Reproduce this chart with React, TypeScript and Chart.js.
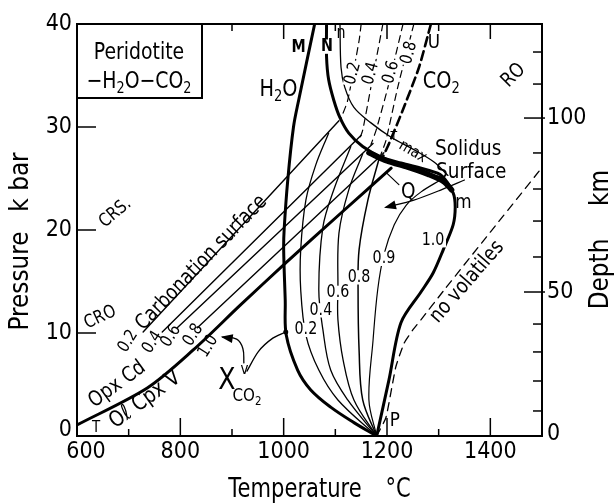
import React, { useEffect, useRef } from "react";
import { Chart, registerables } from "chart.js";
Chart.register(...registerables);

type Pt = [number, number];

// ---- axes ----
const tempMin = 600;
const tempMax = 1500;
const presMin = 0;
const presMax = 40;
const tempLabels = [600, 800, 1000, 1200, 1400];
const tempMinor = [700, 900, 1100, 1300];
const presLabels = [10, 20, 30];
const presTickText = ["0", "10", "20", "30", "40"];
const depthKm = [0, 10, 20, 30, 40, 50, 60, 70, 80, 90, 100, 110, 120];
const depthAtKbar = [0, 2.43, 5.34, 8.16, 10.87, 13.98, 17.38, 20.87, 23.98, 27.48, 30.87, 34.17, 37.28];
const depthLabelled = [0, 50, 100];

// ---- curves (T °C, P kbar) ----
const h2oSolidusM: Pt[] = [[1060, 40], [1029, 32.6], [1019, 30], [1008, 24.9], [1001, 20.1], [1000, 18.1], [1003, 13.2], [1005, 9.8], [1027, 6.4], [1052, 4.5], [1091, 2.8], [1136, 1.3], [1180, 0]];
const solidusNmP: Pt[] = [[1083, 40], [1083, 36.8], [1087, 34.6], [1097, 32.6], [1109, 30.9], [1126, 29.4], [1153, 28.1], [1188, 27.1], [1227, 26.5], [1280, 25.8], [1305, 25.3], [1328, 23.6], [1332, 22.2], [1328, 20.5], [1309, 18.1], [1289, 15.8], [1266, 14.0], [1227, 11.0], [1204, 5.5], [1180, 0]];
const solidusBand: Pt[] = [[1165, 27.5], [1200, 26.7], [1240, 26.1], [1280, 25.4], [1310, 24.7], [1325, 23.9]];
const curveN: Pt[] = [[1109, 40], [1111, 35.8], [1118, 33.9], [1136, 31.9], [1169, 30.4], [1208, 29.0], [1252, 27.8], [1291, 26.6], [1318, 25.3]];
const dashed02: Pt[] = [[1150, 40], [1146, 38.4], [1124, 32.6], [1110, 30.7]];
const dashed04: Pt[] = [[1192, 40], [1169, 33.9], [1153, 29.7], [1146, 28.7]];
const dashed06: Pt[] = [[1231, 40], [1202, 33.9], [1179, 29.7], [1169, 28.3]];
const dashed08: Pt[] = [[1252, 40], [1221, 33.9], [1198, 28.7], [1188, 27.3]];
const dashedU: Pt[] = [[1285, 40], [1262, 35.8], [1231, 31.7], [1204, 28.4], [1192, 27.1]];
const carb02: Pt[] = [[728, 10.1], [1107, 30.6]];
const carb04: Pt[] = [[765, 10.1], [1150, 29.2]];
const carb06: Pt[] = [[794, 10.5], [1173, 28.4]];
const carb08: Pt[] = [[833, 10.5], [1194, 27.5]];
const carb10: Pt[] = [[600, 1.07], [736, 4.66], [825, 8.35], [916, 12.7], [1004, 16.8], [1111, 21.65], [1208, 26.0]];
const iso02: Pt[] = [[1180, 0], [1105, 3.5], [1068, 6.4], [1043, 9.8], [1033, 14.2], [1033, 18.1], [1043, 22.9], [1062, 26.3], [1087, 29.4]];
const iso04: Pt[] = [[1180, 0], [1124, 3.5], [1091, 6.4], [1076, 10.3], [1068, 14.2], [1076, 20.3], [1097, 23.9], [1130, 28.1]];
const iso06: Pt[] = [[1180, 0], [1136, 3.5], [1115, 7.4], [1105, 11.3], [1105, 14.2], [1107, 19.7], [1126, 23.9], [1153, 27.4]];
const iso08: Pt[] = [[1180, 0], [1153, 3.5], [1146, 8.3], [1144, 14.2], [1146, 18.1], [1163, 22.9], [1184, 26.8]];
const iso09: Pt[] = [[1180, 0], [1165, 3.5], [1173, 9.3], [1182, 14.2], [1194, 17.6], [1214, 20.5], [1237, 22.4], [1266, 23.7], [1305, 24.9]];
const noVolatiles: Pt[] = [[1180, 0], [1198, 1.8], [1217, 6.7], [1233, 9.0], [1250, 10.3], [1266, 11.3], [1311, 14.2], [1400, 19.8], [1499, 26.0]];
const surfaceArrow: Pt[] = [[1350, 24.85], [1305, 23.9], [1252, 22.9], [1198, 22.2]];
const qLeader: Pt[] = [[1198, 25.6], [1223, 24.4]];
const xArrow: Pt[] = [[923, 7.1], [921, 8.5], [909, 9.4], [882, 9.6]];
const xLine: Pt[] = [[929, 6.3], [951, 8.2], [979, 9.5], [1004, 10.1]];

type Note = { text: string; T: number; P: number; size: number; rot?: number; bg?: boolean; bold?: boolean };
const notes: Note[] = [
  { text: "H_2O", T: 990, P: 33.6, size: 23 },
  { text: "M", T: 1029, P: 37.7, size: 17, bold: true },
  { text: "N", T: 1084, P: 37.8, size: 17, bold: true, bg: true },
  { text: "n", T: 1111, P: 39.1, size: 17 },
  { text: "0.2", T: 1134, P: 35.2, size: 17, rot: -75, bg: true },
  { text: "0.4", T: 1169, P: 35.2, size: 17, rot: -75, bg: true },
  { text: "0.6", T: 1208, P: 35.3, size: 17, rot: -75, bg: true },
  { text: "0.8", T: 1243, P: 37.2, size: 17, rot: -75, bg: true },
  { text: "U", T: 1291, P: 38.2, size: 20 },
  { text: "CO_2", T: 1305, P: 34.4, size: 23 },
  { text: "RO", T: 1445, P: 35.0, size: 20, rot: -45 },
  { text: "max", T: 1250, P: 27.6, size: 16, rot: 30 },
  { text: "T", T: 1213, P: 29.1, size: 13 },
  { text: "Solidus", T: 1357, P: 27.8, size: 22 },
  { text: "Surface", T: 1363, P: 25.6, size: 22 },
  { text: "Q", T: 1241, P: 23.7, size: 22 },
  { text: "m", T: 1348, P: 22.6, size: 20 },
  { text: "1.0", T: 1289, P: 19.0, size: 17, bg: true },
  { text: "0.9", T: 1194, P: 17.2, size: 17, bg: true },
  { text: "0.8", T: 1146, P: 15.4, size: 17, bg: true },
  { text: "0.6", T: 1105, P: 13.9, size: 17, bg: true },
  { text: "0.4", T: 1072, P: 12.2, size: 17, bg: true },
  { text: "0.2", T: 1043, P: 10.3, size: 17, bg: true },
  { text: "no volatiles", T: 1355, P: 14.95, size: 21, rot: -49 },
  { text: "P", T: 1215, P: 1.46, size: 20 },
  { text: "T", T: 637, P: 0.78, size: 16 },
  { text: "Opx Cd", T: 678, P: 5.0, size: 21, rot: -36 },
  { text: "O\u2113 Cpx V", T: 732, P: 3.5, size: 22, rot: -36 },
  { text: "0.2", T: 699, P: 9.2, size: 17, rot: -58 },
  { text: "0.4", T: 746, P: 9.1, size: 17, rot: -58 },
  { text: "0.6", T: 782, P: 9.7, size: 17, rot: -58 },
  { text: "0.8", T: 825, P: 9.8, size: 17, rot: -58 },
  { text: "1.0", T: 854, P: 8.7, size: 17, rot: -58 },
  { text: "Carbonation surface", T: 841, P: 16.8, size: 21, rot: -46 },
  { text: "CRS.", T: 674, P: 21.65, size: 18, rot: -40 },
  { text: "CRO", T: 645, P: 11.5, size: 18, rot: -25 },
  { text: "X", T: 890, P: 5.3, size: 30 },
  { text: "v", T: 924, P: 6.4, size: 16 },
  { text: "CO_2", T: 929, P: 3.9, size: 18 },
];

const FONT = '"DejaVu Sans", "Liberation Sans", sans-serif';
const SX = 0.84;

type Seg = { t: string; size: number; dy: number; bold?: boolean };
function rich(text: string, size: number, bold?: boolean): Seg[] {
  const segs: Seg[] = [];
  let buf = "";
  for (let i = 0; i < text.length; i++) {
    const c = text[i];
    if ((c === "_" || c === "^") && i + 1 < text.length) {
      if (buf) segs.push({ t: buf, size, dy: 0, bold });
      buf = "";
      segs.push({ t: text[i + 1], size: size * 0.68, dy: c === "_" ? size * 0.32 : -size * 0.35, bold });
      i++;
    } else buf += c;
  }
  if (buf) segs.push({ t: buf, size, dy: 0, bold });
  return segs;
}

function drawSegs(ctx: CanvasRenderingContext2D, segs: Seg[], x: number, y: number, rot = 0, align: "center" | "left" | "right" = "center", bg = false, sx = SX) {
  ctx.save();
  ctx.translate(x, y);
  ctx.rotate((rot * Math.PI) / 180);
  ctx.scale(sx, 1);
  let w = 0;
  const widths: number[] = [];
  let maxSize = 0;
  for (const s of segs) {
    ctx.font = `${s.bold ? "bold " : ""}${s.size}px ${FONT}`;
    const mw = ctx.measureText(s.t).width;
    widths.push(mw);
    w += mw;
    maxSize = Math.max(maxSize, s.size);
  }
  let cx = align === "center" ? -w / 2 : align === "right" ? -w : 0;
  if (bg) {
    ctx.fillStyle = "#fff";
    ctx.fillRect(cx - 2, -maxSize * 0.42, w + 4, maxSize * 0.84);
  }
  ctx.fillStyle = "#000";
  ctx.textBaseline = "middle";
  ctx.textAlign = "left";
  segs.forEach((s, i) => {
    ctx.font = `${s.bold ? "bold " : ""}${s.size}px ${FONT}`;
    ctx.fillText(s.t, cx, s.dy);
    cx += widths[i];
  });
  ctx.restore();
}

const toXY = (pts: Pt[]) => pts.map(([x, y]) => ({ x, y }));

function ds(pts: Pt[], width: number, opts: any = {}) {
  return {
    data: toXY(pts),
    showLine: true,
    borderColor: "#000",
    borderWidth: width,
    pointRadius: 0,
    fill: false,
    tension: opts.tension ?? 0.35,
    borderDash: opts.dash ?? [],
    borderCapStyle: "round",
    borderJoinStyle: "round",
  };
}

export default function App() {
  const ref = useRef<HTMLCanvasElement | null>(null);
  useEffect(() => {
    if (!ref.current) return;
    const overlay = {
      id: "overlay",
      afterDatasetsDraw(chart: any) {
        const { ctx, chartArea: a, scales } = chart;
        const px = (t: number) => scales.x.getPixelForValue(t);
        const py = (p: number) => scales.y.getPixelForValue(p);
        ctx.save();
        ctx.strokeStyle = "#000";
        ctx.lineCap = "butt";
        const head = (pts: Pt[]) => {
          const n = pts.length;
          const x1 = px(pts[n - 2][0]), y1 = py(pts[n - 2][1]);
          const x2 = px(pts[n - 1][0]), y2 = py(pts[n - 1][1]);
          const ang = Math.atan2(y2 - y1, x2 - x1);
          ctx.save();
          ctx.translate(x2, y2);
          ctx.rotate(ang);
          ctx.fillStyle = "#000";
          ctx.beginPath();
          ctx.moveTo(2, 0);
          ctx.lineTo(-10, -4.5);
          ctx.lineTo(-10, 4.5);
          ctx.closePath();
          ctx.fill();
          ctx.restore();
        };
        head(surfaceArrow);
        head(xArrow);
        ctx.fillStyle = "#000";
        ctx.beginPath();
        ctx.arc(px(xLine[xLine.length - 1][0]), py(xLine[xLine.length - 1][1]), 2.5, 0, Math.PI * 2);
        ctx.fill();

        for (const nt of notes) {
          drawSegs(ctx, rich(nt.text, nt.size, nt.bold), px(nt.T), py(nt.P), nt.rot ?? 0, "center", !!nt.bg);
        }

        ctx.lineWidth = 2;
        ctx.strokeRect(a.left, a.top, a.right - a.left, a.bottom - a.top);

        ctx.lineWidth = 1.5;
        const allT = [...tempLabels.filter((v) => v > tempMin), ...tempMinor];
        for (const v of allT) {
          const major = tempLabels.includes(v);
          const x = px(v);
          ctx.beginPath();
          ctx.moveTo(x, a.bottom);
          ctx.lineTo(x, a.bottom - (major ? 18 : 7));
          ctx.moveTo(x, a.top);
          ctx.lineTo(x, a.top + (major ? 15 : 7));
          ctx.stroke();
        }
        for (const v of presLabels) {
          const y = py(v);
          ctx.beginPath();
          ctx.moveTo(a.left, y);
          ctx.lineTo(a.left + 19, y);
          ctx.stroke();
        }
        depthKm.forEach((d, i) => {
          if (d === 0) return;
          const y = py(depthAtKbar[i]);
          const big = depthLabelled.includes(d);
          ctx.beginPath();
          ctx.moveTo(a.right + (big ? 3 : 0), y);
          ctx.lineTo(a.right - (big ? 18 : 9), y);
          ctx.stroke();
        });

        const tsz = 23;
        presTickText.forEach((s, i) => {
          const y = py(i * 10) + (i === 0 ? -6 : 0);
          drawSegs(ctx, [{ t: s, size: tsz, dy: 0 }], a.left - 5, y, 0, "right", false, 0.9);
        });
        tempLabels.forEach((v) => {
          const x = px(v) + (v === tempMin ? 9 : 0);
          drawSegs(ctx, [{ t: String(v), size: tsz, dy: 0 }], x, a.bottom + 16, 0, "center", false, 0.9);
        });
        depthKm.forEach((d, i) => {
          if (!depthLabelled.includes(d)) return;
          const y = py(depthAtKbar[i]) + (d === 0 ? -2 : 0);
          drawSegs(ctx, [{ t: String(d), size: tsz, dy: 0 }], a.right + 5, y, 0, "left", false, 0.9);
        });

        const asz = 27;
        drawSegs(ctx, [{ t: "Temperature", size: asz, dy: 0 }], 295, a.bottom + 54, 0, "center", false, 0.78);
        drawSegs(ctx, [{ t: "\u00B0C", size: asz, dy: 0 }], 398, a.bottom + 54, 0, "center", false, 0.78);
        drawSegs(ctx, [{ t: "Pressure", size: asz, dy: 0 }], 21, 281, -90, "center", false, 0.86);
        drawSegs(ctx, [{ t: "k bar", size: asz, dy: 0 }], 21, 182, -90, "center", false, 0.86);
        drawSegs(ctx, [{ t: "Depth", size: asz, dy: 0 }], 601, 274, -90, "center", false, 0.86);
        drawSegs(ctx, [{ t: "km", size: asz, dy: 0 }], 601, 188, -90, "center", false, 0.86);

        ctx.lineWidth = 2;
        ctx.fillStyle = "#fff";
        ctx.fillRect(a.left, a.top, 125, 74);
        ctx.strokeRect(a.left, a.top, 125, 74);
        drawSegs(ctx, rich("Peridotite", 23), a.left + 62, a.top + 29, 0, "center", false, 0.82);
        drawSegs(ctx, rich("\u2212H_2O\u2212CO_2", 23), a.left + 62, a.top + 58, 0, "center", false, 0.82);
        ctx.restore();
      },
    };

    const chart = new Chart(ref.current, {
      type: "scatter",
      data: {
        datasets: [
          ds(h2oSolidusM, 3),
          ds(solidusNmP, 3, { tension: 0.3 }),
          ds(solidusBand, 5.5, { tension: 0.3 }),
          ds(curveN, 1.3),
          ds(dashed02, 1.2, { dash: [7, 5], tension: 0.2 }),
          ds(dashed04, 1.2, { dash: [7, 5], tension: 0.2 }),
          ds(dashed06, 1.2, { dash: [7, 5], tension: 0.2 }),
          ds(dashed08, 1.2, { dash: [7, 5], tension: 0.2 }),
          ds(dashedU, 2.6, { dash: [9, 5], tension: 0.2 }),
          ds(carb02, 1.4, { tension: 0 }),
          ds(carb04, 1.4, { tension: 0 }),
          ds(carb06, 1.4, { tension: 0 }),
          ds(carb08, 1.4, { tension: 0 }),
          ds(carb10, 3, { tension: 0.3 }),
          ds(iso02, 1.3),
          ds(iso04, 1.3),
          ds(iso06, 1.3),
          ds(iso08, 1.5),
          ds(iso09, 1.2),
          ds(noVolatiles, 1.3, { dash: [8, 6], tension: 0.15 }),
          ds(surfaceArrow, 1.2, { tension: 0.3 }),
          ds(qLeader, 1.2, { tension: 0 }),
          ds(xArrow, 1.3, { tension: 0.4 }),
          ds(xLine, 1.3, { tension: 0.3 }),
        ] as any,
      },
      options: {
        responsive: false,
        animation: false,
        devicePixelRatio: 1,
        layout: { padding: { left: 77, top: 24, right: 72, bottom: 68 } },
        plugins: { legend: { display: false }, tooltip: { enabled: false } },
        scales: {
          x: { type: "linear", min: tempMin, max: tempMax, display: false },
          y: { type: "linear", min: presMin, max: presMax, display: false },
        },
      },
      plugins: [overlay],
    });
    return () => chart.destroy();
  }, []);
  return (
    <div style={{ position: "fixed", left: 0, top: 0, width: 614, height: 504, background: "#fff" }}>
      <canvas ref={ref} width={614} height={504} />
    </div>
  );
}
